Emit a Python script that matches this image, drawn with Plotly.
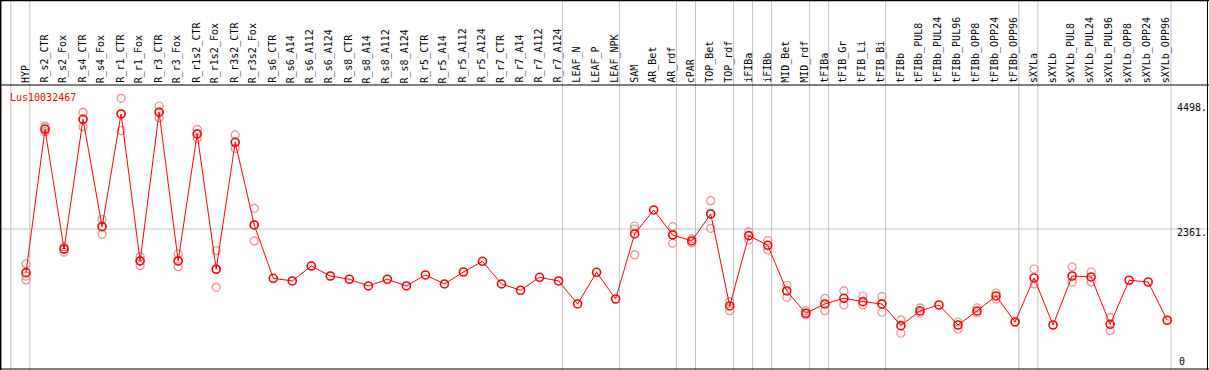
import plotly.graph_objects as go

samples = ["HYP", "R_s2_CTR", "R_s2_Fox", "R_s4_CTR", "R_s4_Fox", "R_r1_CTR", "R_r1_Fox",
           "R_r3_CTR", "R_r3_Fox", "R_r1s2_CTR", "R_r1s2_Fox", "R_r3s2_CTR", "R_r3s2_Fox",
           "R_s6_CTR", "R_s6_A14", "R_s6_A112", "R_s6_A124", "R_s8_CTR", "R_s8_A14",
           "R_s8_A112", "R_s8_A124", "R_r5_CTR", "R_r5_A14", "R_r5_A112", "R_r5_A124",
           "R_r7_CTR", "R_r7_A14", "R_r7_A112", "R_r7_A124", "LEAF_N", "LEAF_P", "LEAF_NPK",
           "SAM", "AR_Bet", "AR_rdf", "cPAR", "TOP_Bet", "TOP_rdf", "iFIBa", "iFIBb",
           "MID_Bet", "MID_rdf", "tFIBa", "tFIB_Gr", "tFIB_Li", "tFIB_Bi", "tFIBb",
           "tFIBb_PUL8", "tFIBb_PUL24", "tFIBb_PUL96", "tFIBb_OPP8", "tFIBb_OPP24",
           "tFIBb_OPP96", "sXYLa", "sXYLb", "sXYLb_PUL8", "sXYLb_PUL24", "sXYLb_PUL96",
           "sXYLb_OPP8", "sXYLb_OPP24", "sXYLb_OPP96"]

means = [1562, 4186, 1995, 4369, 2403, 4466, 1776, 4498, 1776, 4100, 1624, 3948, 2435,
         1459, 1410, 1684, 1501, 1441, 1318, 1441, 1318, 1520, 1355, 1574, 1770,
         1355, 1240, 1477, 1410, 989, 1569, 1080,
         2270, 2709, 2252, 2142, 2636, 952, 2239, 2063, 1227, 819, 989, 1093, 1031, 989,
         592, 861, 970, 604, 861, 1135, 659, 1465, 604, 1501, 1483, 617, 1423, 1391, 691]

replicates = [[1721, 1501, 1428], [4246, 4215, 4142], [2037, 1995, 1935], [4497, 4374, 4233],
              [2539, 2416, 2264], [4753, 4466, 4160], [1854, 1776, 1690], [4612, 4502, 4398],
              [1904, 1776, 1671], [4186, 4100, 4021], [1964, 1629, 1294], [4082, 3953, 3838],
              [2740, 2435, 2142],
              [], [], [], [], [], [], [], [], [], [], [], [], [], [], [], [], [], [], [],
              [2416, 2361, 1886], [], [2403, 2252, 2100], [2179, 2105], [2879, 2636, 2374],
              [1031, 866], [2312, 2160], [2147, 1977], [1331, 1111], [861, 787], [1093, 866],
              [1227, 970], [1135, 970], [1122, 837], [696, 453], [916, 824], [],
              [659, 531], [916, 824], [1190, 1080], [], [1629, 1355], [], [1666, 1391],
              [1574, 1391], [738, 500], [], [], []]

group_ends = [-1, 0, 28, 31, 34, 35, 37, 38, 39, 41, 42, 45, 52, 53, 60]
y_tick_values = [4498, 2361, 0]
y_tick_labels = ["4498.", "2361.", "0"]
gene_name = "Lus10032467"

# pixel-calibrated axis ranges (plot fills whole canvas)
px_per_col = 19.02
x0_px = 26.0
W, H = 1209, 370
zero_px = 358.0
px_per_unit = 0.05464

def xd(p):
    return (p - x0_px) / px_per_col

def yd(p):
    return (zero_px - p) / px_per_unit

rep_x, rep_y = [], []
for i, reps in enumerate(replicates):
    for v in reps:
        rep_x.append(i)
        rep_y.append(v)

fig = go.Figure()
fig.add_trace(go.Scatter(x=rep_x, y=rep_y, mode="markers",
                         marker=dict(symbol="circle-open", size=8, color="#F08C8C",
                                     line=dict(width=1.2, color="#F08C8C")),
                         hoverinfo="skip", showlegend=False))
fig.add_trace(go.Scatter(x=list(range(len(samples))), y=means, mode="lines+markers",
                         line=dict(color="#FF0000", width=1),
                         marker=dict(symbol="circle-open", size=8, color="#FF0000",
                                     line=dict(width=1.6, color="#FF0000")),
                         showlegend=False))

shapes = []
shapes.append(dict(type="line", xref="paper", yref="y", x0=0, x1=1,
                   y0=y_tick_values[1], y1=y_tick_values[1],
                   line=dict(color="#C4C4C4", width=1), layer="below"))
for g in group_ends:
    shapes.append(dict(type="line", xref="x", yref="paper", x0=g + 0.2, x1=g + 0.2,
                       y0=0, y1=1, line=dict(color="#C4C4C4", width=1), layer="below"))
shapes.append(dict(type="line", xref="paper", yref="y", x0=0, x1=1, y0=yd(85), y1=yd(85),
                   line=dict(color="black", width=1)))
shapes.append(dict(type="line", xref="paper", yref="y", x0=0, x1=1, y0=yd(0.5), y1=yd(0.5),
                   line=dict(color="black", width=1.5)))
shapes.append(dict(type="line", xref="paper", yref="y", x0=0, x1=1, y0=yd(369), y1=yd(369),
                   line=dict(color="black", width=1)))
shapes.append(dict(type="line", xref="x", yref="paper", x0=xd(0.7), x1=xd(0.7), y0=0, y1=1,
                   line=dict(color="black", width=1.5)))
shapes.append(dict(type="line", xref="x", yref="paper", x0=xd(1207.5), x1=xd(1207.5), y0=0, y1=1,
                   line=dict(color="black", width=1)))

annotations = []
for i, s in enumerate(samples):
    annotations.append(dict(x=i - 0.05, y=yd(84), xref="x", yref="y", text=s, textangle=-90,
                            showarrow=False, xanchor="center", yanchor="bottom", borderpad=0,
                            font=dict(family="DejaVu Sans Mono", size=10, color="black")))
annotations.append(dict(x=xd(9), y=yd(97), xref="x", yref="y", text=gene_name, showarrow=False,
                        xanchor="left", yanchor="middle", borderpad=0,
                        font=dict(family="DejaVu Sans Mono", size=10, color="#FF0000")))
tick_px = [107.7, 232.7, 361.7]
tick_xpx = [1176, 1176, 1178]
for v, lab, tp, txp in zip(y_tick_values, y_tick_labels, tick_px, tick_xpx):
    annotations.append(dict(x=xd(txp), y=yd(tp), xref="x", yref="y", text=lab, showarrow=False,
                            xanchor="left", yanchor="middle", borderpad=0,
                            font=dict(family="DejaVu Sans Mono", size=10, color="black")))

fig.update_layout(width=W, height=H, autosize=False,
                  margin=dict(l=0, r=0, t=0, b=0, pad=0),
                  paper_bgcolor="white", plot_bgcolor="white",
                  xaxis=dict(range=[xd(0), xd(W)], visible=False, fixedrange=True),
                  yaxis=dict(range=[yd(H), yd(0)], visible=False, fixedrange=True),
                  shapes=shapes, annotations=annotations, showlegend=False)

fig.write_html("out.html", config={"displayModeBar": False, "staticPlot": True},
               post_script="document.body.style.margin='0';document.body.style.overflow='hidden';")
